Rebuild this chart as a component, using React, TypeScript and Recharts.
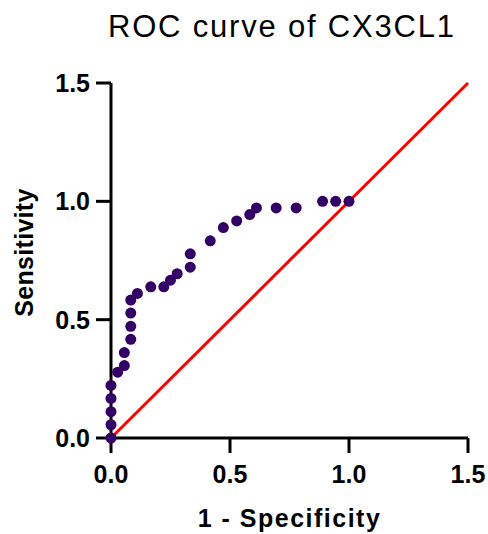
import React from 'react';
import { ScatterChart, Scatter, XAxis, YAxis, Label } from 'recharts';

const fpr = [0, 0, 0, 0, 0, 0.028, 0.056, 0.056, 0.083, 0.083, 0.083, 0.083, 0.111, 0.167, 0.222, 0.25, 0.278, 0.333, 0.333, 0.417, 0.472, 0.528, 0.583, 0.611, 0.694, 0.778, 0.889, 0.944, 1.0];
const tpr = [0, 0.056, 0.111, 0.167, 0.222, 0.278, 0.306, 0.361, 0.417, 0.472, 0.528, 0.583, 0.611, 0.639, 0.639, 0.667, 0.694, 0.722, 0.778, 0.833, 0.889, 0.917, 0.944, 0.972, 0.972, 0.972, 1.0, 1.0, 1.0];
const diagX = [0, 1.5];
const diagY = [0, 1.5];
const axisTicks = [0, 0.5, 1.0, 1.5];

const rocPoints = fpr.map((x, i) => ({ x, y: tpr[i] }));
const diagPoints = diagX.map((x, i) => ({ x, y: diagY[i] }));

const FONT = '"Liberation Sans", Arial, Helvetica, sans-serif';
const DOT = '#330066';

const tickStyle = { fontSize: 25, fontWeight: 700, fill: '#000', fontFamily: FONT };

const Dot = (props: any) => <circle cx={props.cx} cy={props.cy} r={5.5} fill={DOT} />;
const NoDot = () => <g />;

const YTitle = (props: any) => {
  const vb = props.viewBox || {};
  const cx = (vb.x || 0) + 33;
  const cy = (vb.y || 0) + (vb.height || 0) / 2 - 8;
  return (
    <text
      x={cx}
      y={cy}
      transform={`rotate(-90, ${cx}, ${cy})`}
      textAnchor="middle"
      style={{ fontSize: 25, fontWeight: 700, fill: '#000', fontFamily: FONT, letterSpacing: 0.3 }}
    >
      Sensitivity
    </text>
  );
};

export default function App() {
  return (
    <div style={{ position: 'absolute', left: 0, top: 0, width: 488, height: 534, background: '#fff', overflow: 'hidden' }}>
      <div
        style={{
          position: 'absolute',
          left: 108,
          top: 11,
          fontFamily: FONT,
          fontSize: 31,
          lineHeight: '31px',
          letterSpacing: 1.8,
          color: '#000',
          whiteSpace: 'nowrap',
        }}
      >
        ROC curve of CX3CL1
      </div>
      <ScatterChart width={488} height={534} margin={{ top: 83, right: 20, bottom: 0, left: 0 }}>
        <XAxis
          type="number"
          dataKey="x"
          domain={[0, 1.5]}
          ticks={axisTicks}
          tickFormatter={(v: number) => v.toFixed(1)}
          height={96}
          tickSize={15}
          tickMargin={12}
          tick={tickStyle}
          axisLine={{ stroke: '#000', strokeWidth: 3 }}
          tickLine={{ stroke: '#000', strokeWidth: 3 }}
        >
          <Label
            value="1 - Specificity"
            position="insideBottom"
            offset={7}
            style={{ fontSize: 25, fontWeight: 700, fill: '#000', fontFamily: FONT, letterSpacing: 1.5 }}
          />
        </XAxis>
        <YAxis
          type="number"
          dataKey="y"
          domain={[0, 1.5]}
          ticks={axisTicks}
          tickFormatter={(v: number) => v.toFixed(1)}
          width={111}
          tickSize={15}
          tickMargin={6}
          tick={tickStyle}
          axisLine={{ stroke: '#000', strokeWidth: 3 }}
          tickLine={{ stroke: '#000', strokeWidth: 3 }}
        >
          <Label content={YTitle} />
        </YAxis>
        <Scatter
          data={diagPoints}
          line={{ stroke: '#ff0000', strokeWidth: 3 }}
          shape={NoDot}
          isAnimationActive={false}
        />
        <Scatter data={rocPoints} shape={Dot} fill={DOT} isAnimationActive={false} />
      </ScatterChart>
    </div>
  );
}
